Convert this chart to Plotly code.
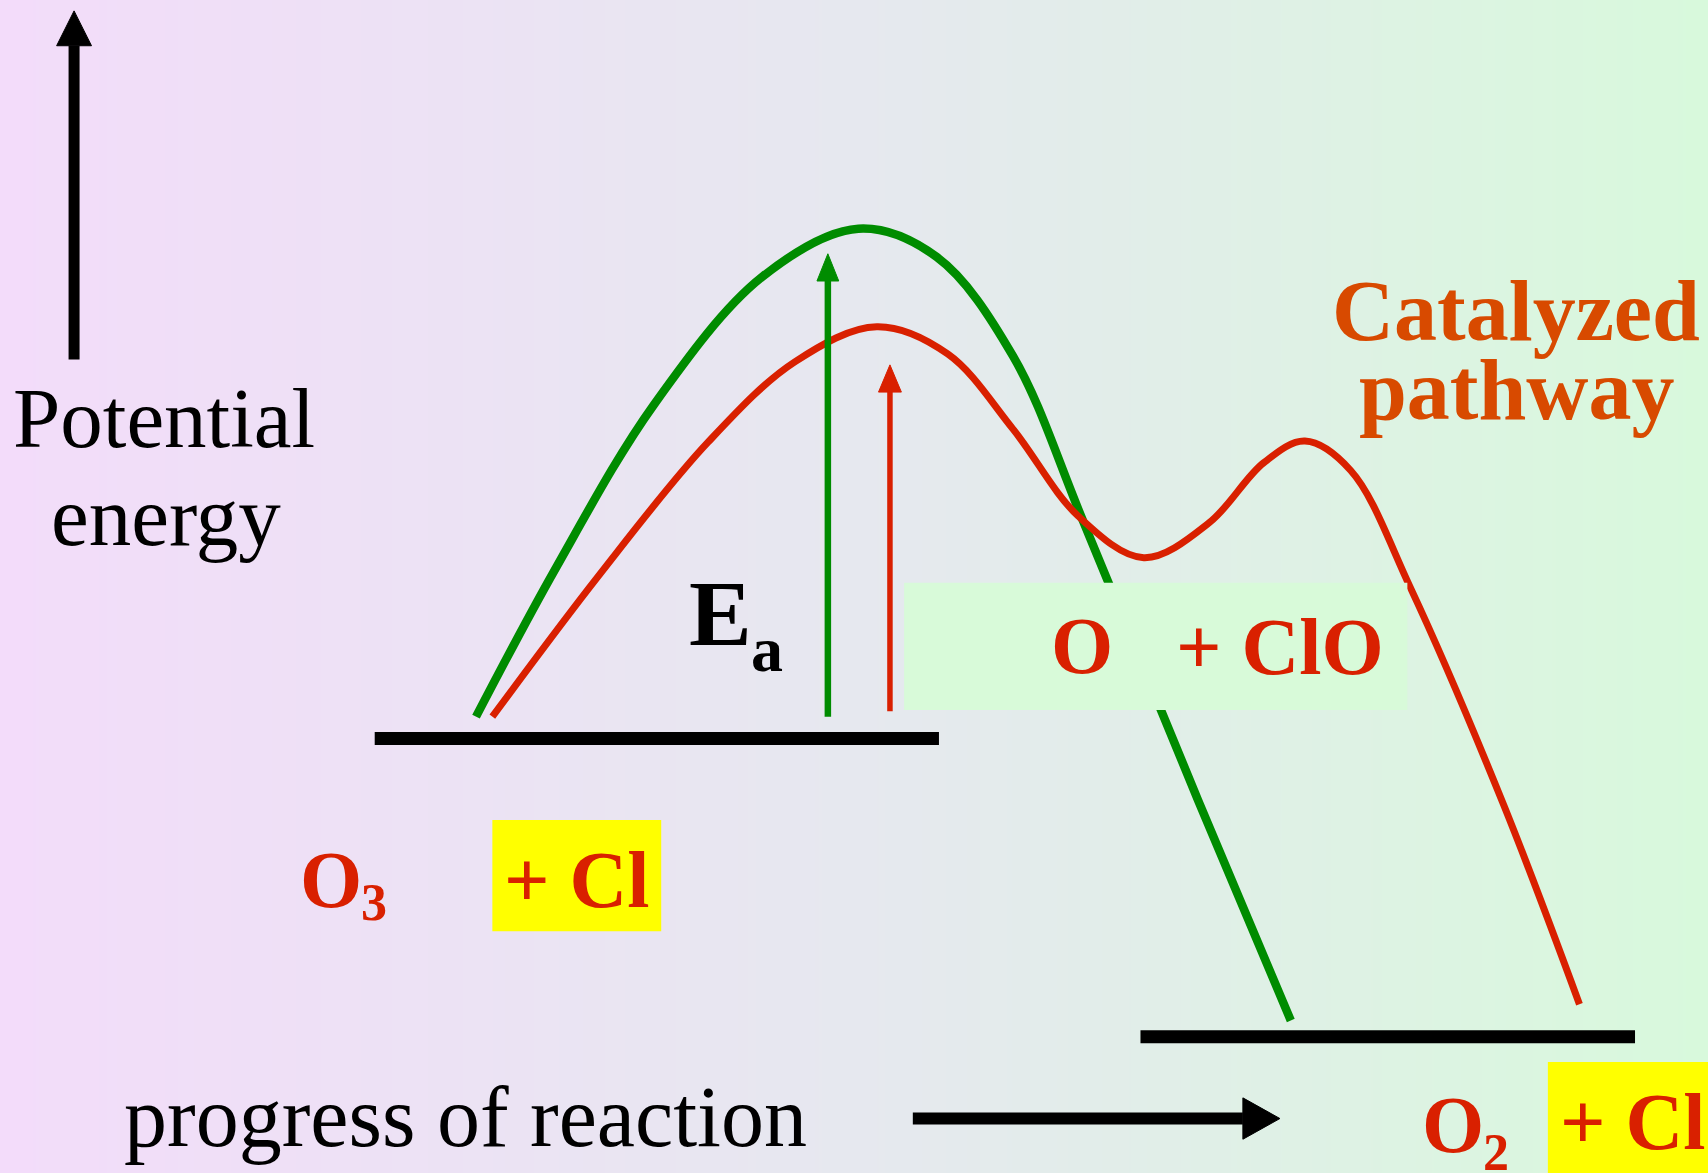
import numpy as np
import plotly.graph_objects as go

# ---------------- canvas / coordinate frame ----------------
W, H = 1708, 1173          # output pixels
XW, YH = 1568, 1077        # drawing coordinate frame (scaled to the canvas)

# ---------------- background gradient ----------------
bg_positions = [0.0, 0.5, 1.0]
bg_colors = ["#f3dcfa", "#e6e8ef", "#d8f9dc"]

# ---------------- reaction profiles ----------------
# uncatalyzed pathway (green)
green_x = [437, 510, 600, 700, 788, 860, 930, 995, 1100, 1185]
green_y = [658, 522, 372, 254, 210, 236, 327, 480, 735, 937]

# catalyzed pathway (red)
red_x = [452, 550, 650, 730, 805, 870, 930, 990, 1050, 1110, 1160, 1198, 1240, 1295, 1380, 1450]
red_y = [658, 528, 406, 332, 300, 325, 394, 474, 512, 480, 425, 405, 432, 540, 738, 922]

# energy levels
reactant_x = [344, 862]
reactant_y = [678, 678]
product_x = [1047, 1501]
product_y = [952, 952]

# arrows: (x0, y0) tail -> (x1, y1) tip
energy_axis = dict(x=[68, 68], y=[330, 10])
progress_axis = dict(x=[838, 1175], y=[1027, 1027])
ea_uncat = dict(x=[760, 760], y=[658, 233])
ea_cat = dict(x=[817, 817], y=[653, 335])

# boxes
intermediate_box = dict(x=[830, 1292], y=[535, 652])
cl_box_left = dict(x=[452, 607], y=[753, 855])
cl_box_right = dict(x=[1421, 1568], y=[975, 1077])

# ---------------- colours ----------------
GREEN = "#008c00"
RED = "#d92000"
ORANGE = "#d84a00"
BLACK = "#000000"

fig = go.Figure()

# background
N = 200
grad = list(np.linspace(0, 1, N))
fig.add_trace(go.Heatmap(
    z=[grad, grad], x=list(np.linspace(0, XW, N)), y=[0, YH],
    colorscale=[[p, c] for p, c in zip(bg_positions, bg_colors)],
    showscale=False, hoverinfo="skip", zsmooth="best"))


def arrow(a, color, width, head_len, head_w):
    x0, x1 = a["x"]
    y0, y1 = a["y"]
    dx, dy = x1 - x0, y1 - y0
    L = (dx ** 2 + dy ** 2) ** 0.5
    ux, uy = dx / L, dy / L
    bx, by = x1 - ux * head_len, y1 - uy * head_len
    px, py = -uy, ux
    fig.add_trace(go.Scatter(x=[x0, bx], y=[y0, by], mode="lines",
                             line=dict(color=color, width=width), hoverinfo="skip"))
    fig.add_trace(go.Scatter(
        x=[x1, bx + px * head_w / 2, bx - px * head_w / 2, x1],
        y=[y1, by + py * head_w / 2, by - py * head_w / 2, y1],
        mode="lines", fill="toself", fillcolor=color,
        line=dict(color=color, width=1), hoverinfo="skip"))


# energy levels
fig.add_trace(go.Scatter(x=reactant_x, y=reactant_y, mode="lines",
                         line=dict(color=BLACK, width=13), hoverinfo="skip"))
fig.add_trace(go.Scatter(x=product_x, y=product_y, mode="lines",
                         line=dict(color=BLACK, width=13), hoverinfo="skip"))

# curves
fig.add_trace(go.Scatter(x=green_x, y=green_y, mode="lines",
                         line=dict(color=GREEN, width=8.5, shape="spline", smoothing=1.0),
                         hoverinfo="skip"))
fig.add_trace(go.Scatter(x=red_x, y=red_y, mode="lines",
                         line=dict(color=RED, width=7, shape="spline", smoothing=1.0),
                         hoverinfo="skip"))

# arrows
arrow(energy_axis, BLACK, 11, 32, 32)
arrow(progress_axis, BLACK, 12, 34, 38)
arrow(ea_uncat, GREEN, 6.5, 25, 20)
arrow(ea_cat, RED, 5.5, 25, 21)

shapes = []
for b, col in [(intermediate_box, "#d8fad9"), (cl_box_left, "#ffff00"), (cl_box_right, "#ffff00")]:
    shapes.append(dict(type="rect", xref="x", yref="y", x0=b["x"][0], x1=b["x"][1],
                       y0=b["y"][0], y1=b["y"][1], fillcolor=col, line=dict(width=0),
                       layer="above"))

SERIF = "Liberation Serif"


def txt(x, y, t, size, color, bold=False, xanchor="center"):
    return dict(x=x, y=y, xref="x", yref="y", text=t, showarrow=False,
                xanchor=xanchor, yanchor="middle",
                font=dict(family=SERIF, size=size, color=color, weight=700 if bold else 400))


annotations = [
    txt(151, 384, "Potential", 85, BLACK),
    txt(152, 474, "energy", 85, BLACK),
    txt(427, 1026, "progress of reaction", 86, BLACK),
    txt(1392, 286, "Catalyzed", 86, ORANGE, True),
    txt(1392, 358, "pathway", 86, ORANGE, True),
    txt(661, 563, "E", 94, BLACK, True),
    txt(704, 596, "a", 64, BLACK, True),
    txt(993, 593, "O", 80, RED, True),
    txt(1175, 594, "+ ClO", 80, RED, True),
    txt(304, 808, "O", 80, RED, True),
    txt(343, 829, "3", 52, RED, True),
    txt(530, 808, "+ Cl", 80, RED, True),
    txt(1334, 1033, "O", 80, RED, True),
    txt(1373, 1058, "2", 52, RED, True),
    txt(1499, 1030, "+ Cl", 80, RED, True),
]

fig.update_layout(
    width=W, height=H, margin=dict(l=0, r=0, t=0, b=0),
    paper_bgcolor="#eae6f2", plot_bgcolor="#eae6f2",
    showlegend=False,
    xaxis=dict(range=[0, XW], visible=False, fixedrange=True),
    yaxis=dict(range=[YH, 0], visible=False, fixedrange=True),
    shapes=shapes, annotations=annotations,
)

fig.write_html("out.html", config={"displayModeBar": False},
               post_script="document.body.style.margin='0';document.body.style.overflow='hidden';")
